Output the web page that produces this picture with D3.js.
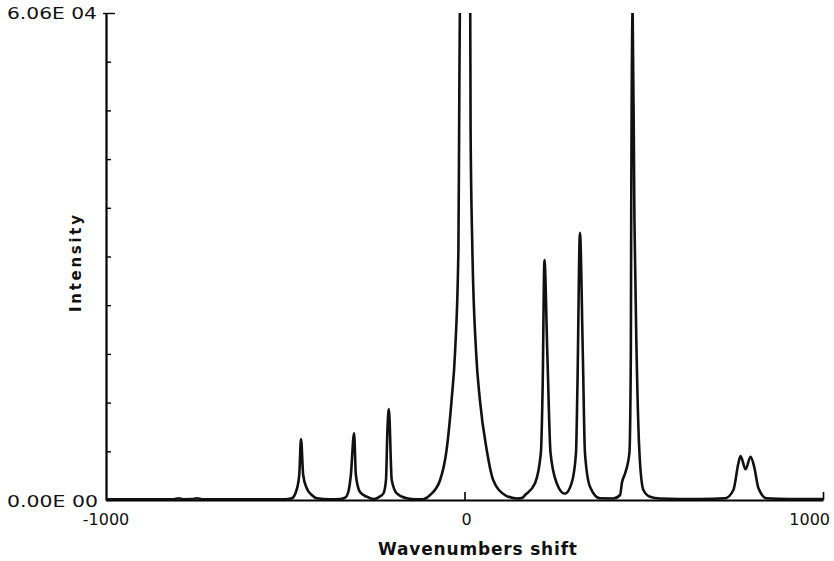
<!DOCTYPE html>
<html>
<head>
<meta charset="utf-8">
<script src="https://cdn.jsdelivr.net/npm/d3@7"></script>
<style>
    body { margin: 0; background: #fff; }
    svg { display: block; }
    .lbl { font-family: "DejaVu Sans", sans-serif; fill: #111; }
</style>
</head>
<body>
<svg width="834" height="561"></svg>
<script>
// Raman spectrum: wavenumber shift (cm-1) and intensity
const shift = [-1000, -810, -798, -785, -760, -746, -732, -501, -482, -470,
    -461, -456, -450, -440, -426, -412, -375, -347, -333, -324,
    -317, -308, -303, -292, -273, -255, -240, -226, -219, -215,
    -211, -203, -189, -161, -135, -116, -96, -68, -50, -36,
    -26, -17, -15, -13, 1, 16, 17, 22, 32, 43,
    62, 80, 113, 146, 160, 169, 197, 213, 218, 223,
    231, 240, 257, 280, 299, 311, 315, 322, 330, 336,
    350, 378, 415, 434, 439, 448, 460, 464, 465, 469,
    474, 480, 488, 499, 517, 545, 657, 727, 750, 764,
    770, 784, 798, 808, 820, 843, 908, 1000];

const intensity = [100, 100, 224, 100, 112, 212, 100, 100, 212, 1030,
    3110, 7590, 3110, 1460, 620, 210, 100, 124, 290, 1030,
    3110, 8300, 3110, 1030, 410, 124, 340, 830, 2490, 8710,
    11320, 2490, 830, 210, 90, 100, 620, 2490, 6220, 12440,
    18670, 31110, 46040, 60600, 67200, 60600, 46040, 31110, 18670, 12440,
    6220, 2490, 620, 190, 250, 620, 2120, 5850, 14100, 29860,
    18290, 5850, 2120, 770, 2120, 5850, 14100, 33260, 18290, 5850,
    1660, 210, 190, 620, 2120, 3320, 5850, 18290, 34840, 61000,
    34840, 18290, 5850, 1240, 410, 190, 124, 210, 1240, 4570,
    5480, 3820, 5390, 4140, 1460, 210, 124, 110];

const yMax = 60600;
const yTicks = d3.range(11).map(i => i * yMax / 10);
const yTickLabels = ["0.00E 00", "6.06E 04"];
const xTicks = [-1000, 0, 1000];
const xTickLabels = ["-1000", "0", "1000"];

const svg = d3.select("svg");

const x = d3.scaleLinear().domain([-1000, 1000]).range([106, 823]);
const y = d3.scaleLinear().domain([0, yMax]).range([500, 13]);

const data = shift.map((s, i) => ({ s: s, v: intensity[i] }));

// clip so the peaks that go off scale get cut at the top
svg.append("clipPath")
    .attr("id", "plot")
    .append("rect")
    .attr("x", x(-1000))
    .attr("y", y(yMax))
    .attr("width", x(1000) - x(-1000))
    .attr("height", y(0) - y(yMax));

// y axis, ticks pointing inward
const yAxis = svg.append("g")
    .attr("transform", `translate(${x(-1000)},0)`)
    .call(d3.axisRight(y).tickValues(yTicks).tickSize(5).tickSizeOuter(0).tickFormat(""));
yAxis.select(".domain").attr("stroke-width", 2.2);
yAxis.selectAll(".tick line").attr("stroke-width", 1.4);
yAxis.selectAll(".tick").filter(d => d === yMax).select("line")
    .attr("x1", -3).attr("x2", 9);

// x axis along the bottom
const xAxis = svg.append("g")
    .attr("transform", `translate(0,${y(0)})`)
    .call(d3.axisTop(x).tickValues(xTicks.slice(1)).tickSize(8).tickSizeOuter(0).tickFormat(""));
xAxis.select(".domain").attr("stroke-width", 2.2);
xAxis.selectAll(".tick line").attr("stroke-width", 1.6);

// spectrum
const line = d3.line()
    .x(d => x(d.s))
    .y(d => y(d.v))
    .curve(d3.curveMonotoneX);

svg.append("path")
    .datum(data)
    .attr("clip-path", "url(#plot)")
    .attr("fill", "none")
    .attr("stroke", "#111")
    .attr("stroke-width", 2.6)
    .attr("stroke-linejoin", "round")
    .attr("d", line);

// tick labels
svg.append("text").attr("class", "lbl")
    .attr("x", 7).attr("y", y(yMax) + 5.5)
    .attr("font-size", 15)
    .attr("textLength", 90).attr("lengthAdjust", "spacingAndGlyphs")
    .text(yTickLabels[1]);

svg.append("text").attr("class", "lbl")
    .attr("x", 7).attr("y", y(0) + 7)
    .attr("font-size", 15)
    .attr("textLength", 91).attr("lengthAdjust", "spacingAndGlyphs")
    .text(yTickLabels[0]);

svg.append("text").attr("class", "lbl")
    .attr("x", x(xTicks[0])).attr("y", 525)
    .attr("text-anchor", "middle")
    .attr("font-size", 16)
    .text(xTickLabels[0]);

svg.append("text").attr("class", "lbl")
    .attr("x", x(xTicks[1]) + 2).attr("y", 525)
    .attr("text-anchor", "middle")
    .attr("font-size", 16)
    .text(xTickLabels[1]);

svg.append("text").attr("class", "lbl")
    .attr("x", x(xTicks[2]) + 7).attr("y", 525)
    .attr("text-anchor", "end")
    .attr("font-size", 16)
    .text(xTickLabels[2]);

// axis titles
svg.append("text").attr("class", "lbl")
    .attr("x", 378).attr("y", 554.5)
    .attr("font-size", 17).attr("font-weight", "bold")
    .attr("textLength", 199).attr("lengthAdjust", "spacing")
    .text("Wavenumbers shift");

svg.append("text").attr("class", "lbl")
    .attr("transform", "translate(81,263.5) rotate(-90)")
    .attr("text-anchor", "middle")
    .attr("font-size", 15).attr("font-weight", "bold")
    .attr("textLength", 97).attr("lengthAdjust", "spacing")
    .text("Intensity");
</script>
</body>
</html>
